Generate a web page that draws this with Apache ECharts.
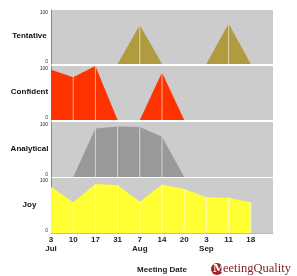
<!DOCTYPE html>
<html>
<head>
<meta charset="utf-8">
<script src="https://cdn.jsdelivr.net/npm/echarts@6/dist/echarts.min.js"></script>
<style>
  html, body { margin: 0; padding: 0; background: #fff; }
  #chart { width: 297px; height: 276px; }
</style>
</head>
<body>
<div id="chart"></div>
<script>
// meeting dates (day / month)
var days = ['3', '10', '17', '31', '7', '14', '20', '3', '11', '18'];
var months = ['Jul', '', '', '', 'Aug', '', '', 'Sep', '', ''];

// mood scores 0..100 per meeting
var tentative = [0, 0, 0, 0, 72, 0, 0, 0, 75, 0];
var confident = [93, 79, 100, 0, 0, 88, 0, 0, 0, 0];
var analytical = [0, 0, 88, 92, 91, 73, 0, 0, 0, 0];
var joy = [84, 56, 89, 87, 57, 88, 80, 65, 64, 56];

var panelNames = ['Tentative', 'Confident', 'Analytical', 'Joy'];
var panelData = [tentative, confident, analytical, joy];
var panelColors = ['#b19b40', '#ff3300', '#999999', '#ffff33'];
var yTicks = [0, 100];

var tops = [10, 66, 122, 178];
var heights = [54, 54, 55, 55];

var chart = echarts.init(document.getElementById('chart'), null, { renderer: 'canvas' });

var grids = [], xAxes = [], yAxes = [], series = [], names = [];
panelNames.forEach(function (name, k) {
  grids.push({
    left: 51, right: 24, top: tops[k], height: heights[k],
    containLabel: false, outerBoundsMode: 'none',
    show: true, backgroundColor: '#cccccc', borderWidth: 0
  });
  var last = k === panelNames.length - 1;
  xAxes.push({
    gridIndex: k, type: 'value', min: 0, max: 10, interval: 1,
    axisLine: { show: last, lineStyle: { color: '#bbbbbb', width: 1 } },
    axisTick: { show: false },
    splitLine: { show: false },
    axisLabel: {
      show: last, margin: 2, color: '#222', fontSize: 8, fontWeight: 'bold',
      fontFamily: 'Liberation Sans', lineHeight: 9,
      formatter: function (v) {
        if (v >= days.length) return '';
        return months[v] ? days[v] + '\n' + months[v] : days[v];
      }
    },
    name: last ? 'Meeting Date' : '',
    nameLocation: 'middle', nameGap: 33,
    nameTextStyle: { color: '#222', fontSize: 8, fontWeight: 'bold', fontFamily: 'Liberation Sans' }
  });
  yAxes.push({
    gridIndex: k, type: 'value', min: yTicks[0], max: yTicks[1], interval: 100,
    axisLine: { show: true, lineStyle: { color: '#888888', width: 1 } },
    axisTick: { show: false },
    splitLine: { show: false },
    axisLabel: {
      margin: 3, color: '#333', fontSize: 5, fontFamily: 'Liberation Sans',
      verticalAlignMinLabel: 'bottom', verticalAlignMaxLabel: 'top'
    }
  });
  // panel title, centred left of the axis
  names.push({
    type: 'text', x: 29.5, y: tops[k] + heights[k] / 2 - 1,
    style: {
      text: name, fill: '#111', font: 'bold 8px "Liberation Sans"',
      textAlign: 'center', textVerticalAlign: 'middle'
    }
  });
  var vals = panelData[k];
  series.push({
    type: 'line', xAxisIndex: k, yAxisIndex: k, z: 2,
    data: vals.map(function (v, i) { return [i, v]; }),
    symbol: 'none', silent: true,
    lineStyle: { width: 0 },
    itemStyle: { color: panelColors[k] },
    areaStyle: { color: panelColors[k], opacity: 1 }
  });
  // pale separators at each meeting inside the filled area
  series.push({
    type: 'custom', xAxisIndex: k, yAxisIndex: k, silent: true, z: 5,
    data: vals.map(function (v, i) { return [i, v]; }),
    renderItem: function (params, api) {
      var x = api.value(0), v = api.value(1);
      if (x === 0 || v === 0) return null;
      var a = api.coord([x, 0]);
      var b = api.coord([x, v]);
      return {
        type: 'line',
        shape: { x1: a[0], y1: a[1], x2: b[0], y2: b[1] },
        style: { stroke: 'rgba(255,255,255,0.6)', lineWidth: 1 }
      };
    }
  });
});

chart.setOption({
  animation: false,
  backgroundColor: '#ffffff',
  grid: grids,
  xAxis: xAxes,
  yAxis: yAxes,
  series: series,
  graphic: names.concat([
    {
      type: 'circle', left: 211, top: 263,
      shape: { r: 6 },
      style: { fill: '#a3242a' }
    },
    {
      type: 'text', left: 213, top: 264,
      style: { text: 'M', fill: '#ffffff', font: 'bold 11px "DejaVu Serif"' }
    },
    {
      type: 'text', left: 223, top: 262,
      style: { text: 'eetingQuality', fill: '#7d1c20', font: '12.5px "Liberation Serif"' }
    }
  ])
});
</script>
</body>
</html>
